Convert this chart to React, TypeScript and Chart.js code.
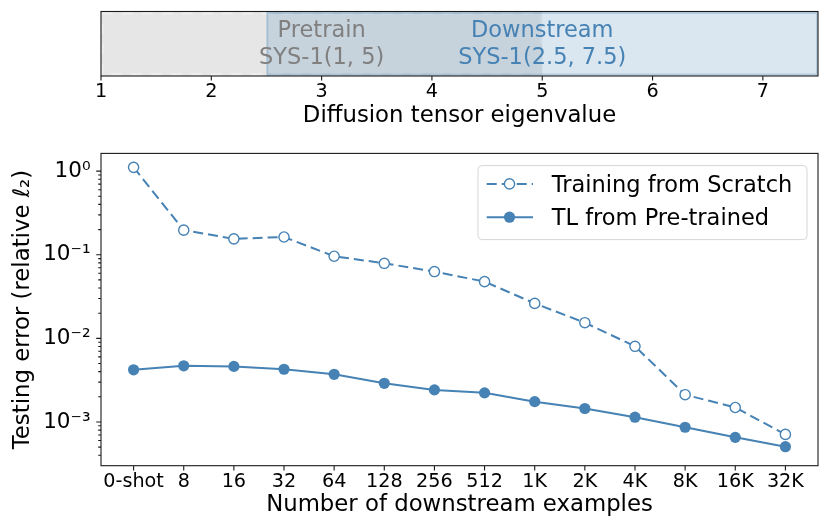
import React, { useEffect, useRef } from 'react';
import { Chart, registerables } from 'chart.js';

Chart.register(...registerables);

// ---------- data ----------
const categories = ['0-shot', '8', '16', '32', '64', '128', '256', '512', '1K', '2K', '4K', '8K', '16K', '32K'];
const scratchErrors = [1.11, 0.197, 0.155, 0.163, 0.096, 0.079, 0.063, 0.0477, 0.0262, 0.0154, 0.00804, 0.00212, 0.00149, 0.00071];
const pretrainedErrors = [0.00421, 0.0047, 0.00462, 0.00427, 0.00372, 0.0029, 0.00242, 0.00223, 0.00175, 0.00145, 0.00114, 0.000865, 0.000655, 0.000506];
const seriesNames = ['Training from Scratch', 'TL from Pre-trained'];

const yMajorTicks = [1e-3, 1e-2, 1e-1, 1];
const yMajorLabels = ['10⁻³', '10⁻²', '10⁻¹', '10⁰'];
const yMinorMultipliers = [2, 3, 4, 5, 6, 7, 8, 9];
const yMinorDecades = [1e-4, 1e-3, 1e-2, 1e-1];

const eigenTicks = [1, 2, 3, 4, 5, 6, 7];
const spanNames = ['Pretrain', 'Downstream'];
const spanSubtitles = ['SYS-1(1, 5)', 'SYS-1(2.5, 7.5)'];
const spanStart = [1, 2.5];
const spanEnd = [5, 7.5];
const spanLabelAt = [3, 5];

// ---------- styles ----------
const STEEL = '#4682B4';
const FONT = "'DejaVu Sans', sans-serif";
const SPINE = '#1a1a1a';
const SCRATCH_DASH = [10, 5];

const yMinorTicks: number[] = [];
yMinorDecades.forEach((d) => yMinorMultipliers.forEach((m) => {
  const v = m * d;
  if (v >= 3.45e-4 && v <= 1.63) yMinorTicks.push(v);
}));

function drawBox(ctx: CanvasRenderingContext2D, a: any) {
  ctx.save();
  ctx.strokeStyle = SPINE;
  ctx.lineWidth = 1.1;
  ctx.setLineDash([]);
  ctx.strokeRect(a.left, a.top, a.right - a.left, a.bottom - a.top);
  ctx.restore();
}

function drawXTicks(ctx: CanvasRenderingContext2D, scale: any, values: number[], bottom: number, len: number) {
  ctx.save();
  ctx.strokeStyle = SPINE;
  ctx.lineWidth = 1.1;
  ctx.beginPath();
  values.forEach((v) => {
    const x = scale.getPixelForValue(v);
    ctx.moveTo(x, bottom);
    ctx.lineTo(x, bottom + len);
  });
  ctx.stroke();
  ctx.restore();
}

function drawYTicks(ctx: CanvasRenderingContext2D, scale: any, values: number[], left: number, len: number) {
  ctx.save();
  ctx.strokeStyle = SPINE;
  ctx.lineWidth = 1.1;
  ctx.beginPath();
  values.forEach((v) => {
    const y = scale.getPixelForValue(v);
    ctx.moveTo(left, y);
    ctx.lineTo(left - len, y);
  });
  ctx.stroke();
  ctx.restore();
}

const topPlugin = {
  id: 'spans',
  beforeDraw(chart: any) {
    const { ctx, chartArea: a, scales } = chart;
    const x = scales.x;
    const fills = ['rgba(128,128,128,0.2)', 'rgba(70,130,180,0.2)'];
    spanStart.forEach((s, i) => {
      const x0 = x.getPixelForValue(s);
      const x1 = x.getPixelForValue(spanEnd[i]);
      ctx.save();
      ctx.fillStyle = fills[i];
      ctx.fillRect(x0, a.top, x1 - x0, a.bottom - a.top);
      if (i === 0) {
        ctx.strokeStyle = 'rgba(255,255,255,0.3)';
        ctx.lineWidth = 3;
        ctx.setLineDash([11, 9]);
      } else {
        ctx.strokeStyle = 'rgba(70,130,180,0.25)';
        ctx.lineWidth = 2;
      }
      ctx.strokeRect(x0 + 1, a.top + 1.5, x1 - x0 - 2, a.bottom - a.top - 3);
      ctx.restore();
    });
  },
  afterDraw(chart: any) {
    const { ctx, chartArea: a, scales } = chart;
    const x = scales.x;
    const colors = ['#808080', STEEL];
    spanLabelAt.forEach((v, i) => {
      const cx = x.getPixelForValue(v);
      ctx.save();
      ctx.fillStyle = colors[i];
      ctx.font = `22.5px ${FONT}`;
      ctx.textAlign = 'center';
      ctx.textBaseline = 'alphabetic';
      ctx.fillText(spanNames[i], cx, a.top + 25.2);
      ctx.fillText(spanSubtitles[i], cx, a.top + 52.5);
      ctx.restore();
    });
    drawBox(ctx, a);
    drawXTicks(ctx, x, eigenTicks, a.bottom, 4.5);
  },
};

const bottomPlugin = {
  id: 'decor',
  afterDraw(chart: any) {
    const { ctx, chartArea: a, scales } = chart;
    drawBox(ctx, a);
    drawXTicks(ctx, scales.x, categories.map((_, i) => i), a.bottom, 4.8);
    drawYTicks(ctx, scales.y, yMajorTicks, a.left, 4.8);
    drawYTicks(ctx, scales.y, yMinorTicks, a.left, 2.8);

    // legend
    const lx = a.right - 340;
    const ly = a.top + 12.2;
    const w = 329;
    const h = 74;
    ctx.save();
    ctx.beginPath();
    ctx.roundRect(lx, ly, w, h, 4);
    ctx.fillStyle = 'rgba(255,255,255,0.8)';
    ctx.fill();
    ctx.strokeStyle = '#d6d6d6';
    ctx.lineWidth = 1;
    ctx.stroke();
    const rows = [ly + 18.3, ly + 51.6];
    rows.forEach((ry, i) => {
      ctx.strokeStyle = STEEL;
      ctx.lineWidth = 2;
      ctx.setLineDash(i === 0 ? SCRATCH_DASH : []);
      ctx.beginPath();
      ctx.moveTo(lx + 8.7, ry);
      ctx.lineTo(lx + 55, ry);
      ctx.stroke();
      ctx.setLineDash([]);
      ctx.beginPath();
      if (i === 0) {
        ctx.arc(lx + 31.5, ry, 5.1, 0, Math.PI * 2);
        ctx.fillStyle = '#fff';
        ctx.fill();
        ctx.lineWidth = 1.4;
        ctx.stroke();
      } else {
        ctx.arc(lx + 31.5, ry, 5.6, 0, Math.PI * 2);
        ctx.fillStyle = STEEL;
        ctx.fill();
      }
      ctx.fillStyle = '#000';
      ctx.font = `22.5px ${FONT}`;
      ctx.textAlign = 'left';
      ctx.textBaseline = 'alphabetic';
      ctx.fillText(seriesNames[i], lx + 73.7, ry + 8.2);
    });
    ctx.restore();
  },
};

function majorLabel(v: number): string {
  const i = yMajorTicks.findIndex((m) => Math.abs(v - m) / m < 1e-6);
  return i >= 0 ? yMajorLabels[i] : '';
}

export default function App() {
  const topRef = useRef<HTMLCanvasElement | null>(null);
  const botRef = useRef<HTMLCanvasElement | null>(null);

  useEffect(() => {
    const top = new Chart(topRef.current as HTMLCanvasElement, {
      type: 'scatter',
      data: { datasets: [] },
      options: {
        animation: false,
        responsive: false,
        events: [],
        layout: { padding: { left: 101, right: 12, top: 11.5, bottom: 0 } },
        plugins: { legend: { display: false }, tooltip: { enabled: false } },
        scales: {
          x: {
            type: 'linear',
            min: 1,
            max: 7.5,
            afterBuildTicks: (s: any) => { s.ticks = eigenTicks.map((v) => ({ value: v })); },
            afterFit: (s: any) => { s.height = 54; },
            grid: { display: false, drawTicks: false },
            border: { display: false },
            ticks: {
              padding: 4.5,
              color: '#000',
              font: { family: FONT, size: 19.2 },
              maxRotation: 0,
              minRotation: 0,
              autoSkip: false,
              callback: (v: any) => String(v),
            },
            title: {
              display: true,
              text: 'Diffusion tensor eigenvalue',
              color: '#000',
              font: { family: FONT, size: 22.8 },
              padding: { top: 0, bottom: 0.7 },
            },
          },
          y: { display: false, min: 0, max: 1 },
        },
      },
      plugins: [topPlugin],
    } as any);

    const bottom = new Chart(botRef.current as HTMLCanvasElement, {
      type: 'line',
      data: {
        datasets: [
          {
            label: seriesNames[0],
            data: scratchErrors.map((y, i) => ({ x: i, y })),
            borderColor: STEEL,
            borderWidth: 2,
            borderDash: SCRATCH_DASH,
            pointRadius: 5.1,
            pointBorderWidth: 1.4,
            pointBackgroundColor: '#fff',
            pointBorderColor: STEEL,
            fill: false,
            tension: 0,
          },
          {
            label: seriesNames[1],
            data: pretrainedErrors.map((y, i) => ({ x: i, y })),
            borderColor: STEEL,
            borderWidth: 2,
            pointRadius: 5.6,
            pointBorderWidth: 0,
            pointBackgroundColor: STEEL,
            pointBorderColor: STEEL,
            fill: false,
            tension: 0,
          },
        ],
      },
      options: {
        animation: false,
        responsive: false,
        events: [],
        layout: { padding: { left: 0, right: 12, top: 9.5, bottom: 0 } },
        plugins: { legend: { display: false }, tooltip: { enabled: false } },
        scales: {
          x: {
            type: 'linear',
            min: -0.65,
            max: 13.65,
            afterBuildTicks: (s: any) => { s.ticks = categories.map((_, i) => ({ value: i })); },
            afterFit: (s: any) => { s.height = 63.3; },
            grid: { display: false, drawTicks: false },
            border: { display: false },
            ticks: {
              padding: 4.5,
              color: '#000',
              font: { family: FONT, size: 19.2 },
              maxRotation: 0,
              minRotation: 0,
              autoSkip: false,
              callback: (v: any) => categories[Math.round(v)] ?? '',
            },
            title: {
              display: true,
              text: 'Number of downstream examples',
              color: '#000',
              font: { family: FONT, size: 22.8 },
              padding: { top: 0, bottom: 10.7 },
            },
          },
          y: {
            type: 'logarithmic',
            min: 3.45e-4,
            max: 1.63,
            afterBuildTicks: (s: any) => {
              s.ticks = [...yMajorTicks, ...yMinorTicks].sort((p, q) => p - q).map((v) => ({ value: v, major: yMajorTicks.includes(v) }));
            },
            afterFit: (s: any) => { s.width = 101; },
            grid: { display: false, drawTicks: false },
            border: { display: false },
            ticks: {
              padding: 10.5,
              color: '#000',
              font: { family: FONT, size: 21.5 },
              autoSkip: false,
              callback: (v: any) => majorLabel(Number(v)),
            },
            title: {
              display: true,
              text: 'Testing error (relative ℓ₂)',
              color: '#000',
              font: { family: FONT, size: 22.8 },
              padding: { top: 9.5, bottom: 0 },
            },
          },
        },
      },
      plugins: [bottomPlugin],
    } as any);

    return () => {
      top.destroy();
      bottom.destroy();
    };
  }, []);

  return (
    <div style={{ position: 'fixed', left: 0, top: 0, width: 830, height: 529, background: '#fff' }}>
      <canvas ref={topRef} width={830} height={130} style={{ position: 'absolute', left: 0, top: 0, display: 'block' }} />
      <canvas ref={botRef} width={830} height={399} style={{ position: 'absolute', left: 0, top: 130, display: 'block' }} />
    </div>
  );
}
